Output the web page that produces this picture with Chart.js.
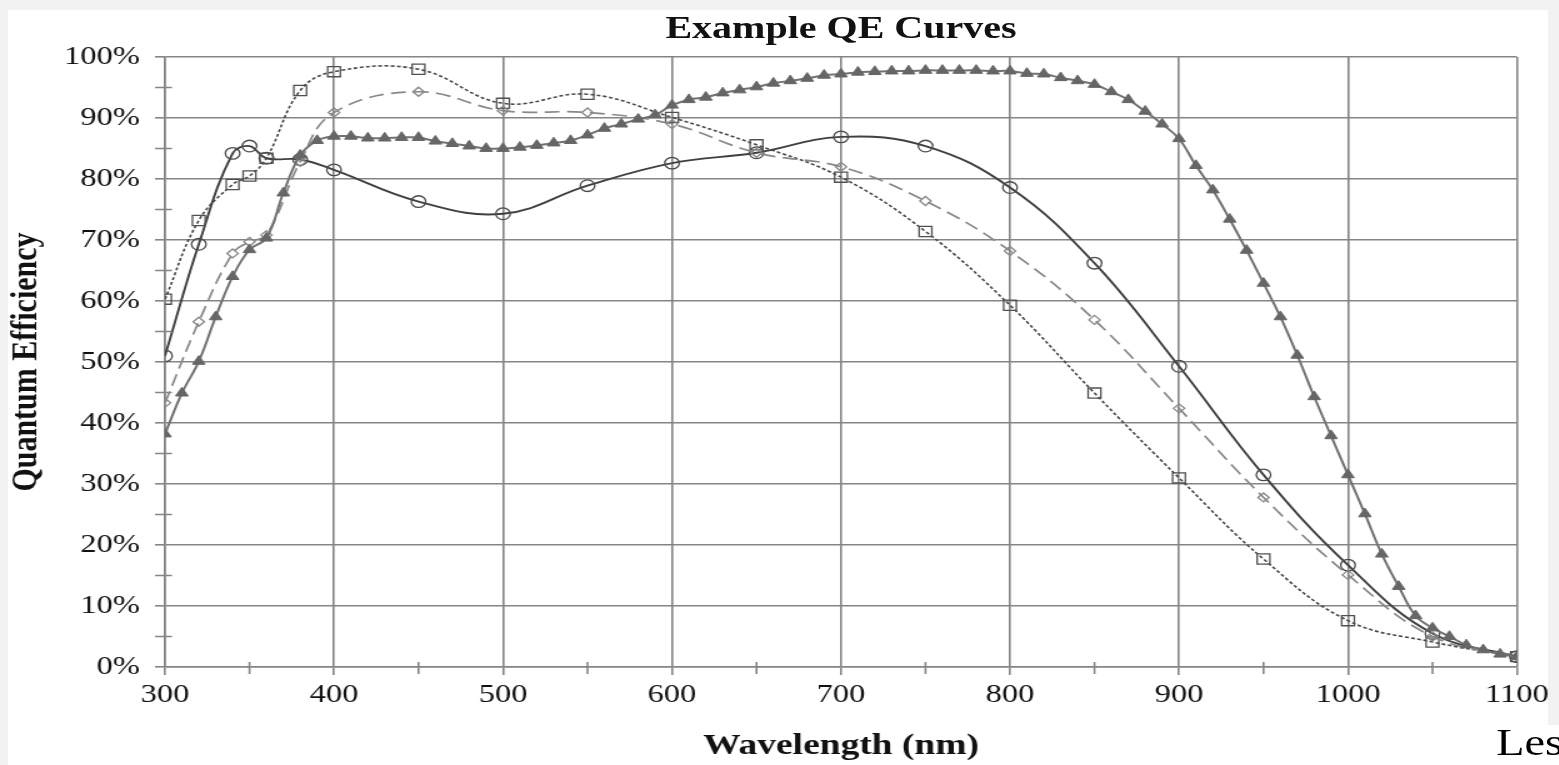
<!DOCTYPE html>
<html>
<head>
<meta charset="utf-8">
<script src="https://cdn.jsdelivr.net/npm/chart.js@4.4.1/dist/chart.umd.min.js"></script>
<style>
  html, body { margin: 0; padding: 0; background: #f2f2f2; overflow: hidden; }
  #paper { position: absolute; left: 8px; top: 10px; width: 1540px; height: 755px; background: #fff; }
  #paper2 { position: absolute; left: 1540px; top: 725px; width: 19px; height: 40px; background: #fff; }
  #wrap { position: absolute; left: 0; top: 0; width: 1247px; height: 765px; transform: scaleX(1.25); transform-origin: 0 0; }
  #c { position: absolute; left: 0; top: 0; width: 1247px; height: 765px; }
  #title { position: absolute; top: 11px; left: 472.8px; width: 400px; text-align: center; font: bold 32px "Liberation Serif", serif; line-height: 1; color: #111; white-space: nowrap; }
  #les { position: absolute; top: 724px; left: 1197px; font: 37px "Liberation Serif", serif; line-height: 1; color: #000; white-space: nowrap; }
</style>
</head>
<body>
<div id="paper"></div>
<div id="paper2"></div>
<div id="wrap">
  <canvas id="c" width="1247" height="765"></canvas>
  <div id="title">Example QE Curves</div>
  <div id="les">Les</div>
</div>
<script>
// ---- data ----
const wlCircle = [300,320,340,350,360,380,400,450,500,550,600,650,700,750,800,850,900,950,1000,1050,1100];
const qeCircle = [51.0,69.3,84.2,85.4,83.4,83.2,81.5,76.3,74.3,78.9,82.6,84.3,86.9,85.4,78.6,66.2,49.3,31.5,16.7,5.5,1.7];

const wlSquare = [300,320,340,350,360,380,400,450,500,550,600,650,700,750,800,850,900,950,1000,1050,1100];
const qeSquare = [60.3,73.2,79.1,80.5,83.4,94.5,97.6,98.0,92.4,93.9,90.1,85.6,80.3,71.4,59.3,44.9,31.0,17.7,7.6,4.1,1.7];

const wlDiamond = [300,320,340,350,360,380,400,450,500,550,600,650,700,750,800,850,900,950,1000,1050,1100];
const qeDiamond = [43.3,56.6,67.8,69.7,70.8,82.8,90.9,94.3,91.2,90.9,89.0,84.3,82.0,76.4,68.2,56.9,42.4,27.8,15.1,5.0,1.7];

const wlTriangle = [300,310,320,330,340,350,360,370,380,390,400,410,420,430,440,450,460,470,480,490,
  500,510,520,530,540,550,560,570,580,590,600,610,620,630,640,650,660,670,680,690,
  700,710,720,730,740,750,760,770,780,790,800,810,820,830,840,850,860,870,880,890,
  900,910,920,930,940,950,960,970,980,990,1000,1010,1020,1030,1040,1050,1060,1070,1080,1090,1100];
const qeTriangle = [38.2,44.9,50.1,57.4,64.0,68.4,70.3,77.7,83.9,86.3,87.0,87.0,86.7,86.7,86.8,86.8,86.2,85.8,85.4,85.0,
  85.0,85.2,85.5,85.9,86.3,87.2,88.3,89.0,89.8,90.5,92.1,93.0,93.4,94.1,94.6,95.1,95.7,96.1,96.5,97.0,
  97.2,97.5,97.6,97.7,97.7,97.8,97.8,97.8,97.8,97.7,97.7,97.3,97.2,96.6,96.1,95.5,94.3,93.0,91.1,89.0,
  86.6,82.2,78.2,73.4,68.3,62.9,57.4,51.1,44.3,37.9,31.5,25.1,18.5,13.2,8.4,6.4,5.0,3.6,2.8,2.1,1.7];

const xTicks = [300,400,500,600,700,800,900,1000,1100];
const yTicks = [0,10,20,30,40,50,60,70,80,90,100];
const xMinor = [350,450,550,650,750,850,950,1050];
const yMinor = [5,15,25,35,45,55,65,75,85,95];

const pts = (xs, ys) => xs.map((x, i) => ({ x: x, y: ys[i] }));

const GRID = '#858585';
const FONT = '"Liberation Serif", "Times New Roman", serif';

const minorTicks = {
  id: 'minorTicks',
  afterDraw(chart) {
    const { ctx, scales: { x, y } } = chart;
    ctx.save();
    ctx.strokeStyle = GRID;
    ctx.lineWidth = 1.6;
    ctx.beginPath();
    yMinor.forEach(v => {
      const py = y.getPixelForValue(v);
      ctx.moveTo(x.left - 8, py); ctx.lineTo(x.left + 5.5, py);
    });
    xMinor.forEach(v => {
      const px = x.getPixelForValue(v);
      ctx.moveTo(px, y.bottom - 5); ctx.lineTo(px, y.bottom + 7);
    });
    ctx.stroke();
    ctx.restore();
  }
};

new Chart(document.getElementById('c'), {
  type: 'line',
  data: {
    datasets: [
      {
        label: 'A', data: pts(wlTriangle, qeTriangle),
        borderColor: '#727272', borderWidth: 2, tension: 0.4,
        pointStyle: 'triangle', pointRadius: 5.8, pointBackgroundColor: '#666666', pointBorderColor: '#666666', pointBorderWidth: 1
      },
      {
        label: 'B', data: pts(wlDiamond, qeDiamond),
        borderColor: '#888888', borderWidth: 1.7, borderDash: [12, 6], tension: 0.4,
        pointStyle: 'rectRot', pointRadius: 4.5, pointBackgroundColor: 'rgba(255,255,255,0)', pointBorderColor: '#888888', pointBorderWidth: 1.3
      },
      {
        label: 'C', data: pts(wlSquare, qeSquare),
        borderColor: '#474747', borderWidth: 1.6, borderDash: [3, 2], tension: 0.4,
        pointStyle: 'rect', pointRadius: 7.2, pointBackgroundColor: 'rgba(255,255,255,0)', pointBorderColor: '#505050', pointBorderWidth: 1.3
      },
      {
        label: 'D', data: pts(wlCircle, qeCircle),
        borderColor: '#404040', borderWidth: 1.9, tension: 0.4,
        pointStyle: 'circle', pointRadius: 5.8, pointBackgroundColor: 'rgba(255,255,255,0)', pointBorderColor: '#4a4a4a', pointBorderWidth: 1.3
      }
    ]
  },
  options: {
    responsive: false,
    animation: false,
    devicePixelRatio: 1,
    layout: { padding: { left: 0, right: 33.4, top: 57, bottom: 0 } },
    plugins: { legend: { display: false }, title: { display: false }, tooltip: { enabled: false } },
    scales: {
      x: {
        type: 'linear', min: 300, max: 1100,
        afterBuildTicks: s => { s.ticks = xTicks.map(v => ({ value: v })); },
        afterFit: s => { s.height = 98; },
        grid: { color: GRID, lineWidth: 1.6, tickLength: 8, tickColor: GRID },
        border: { color: GRID, width: 1.6 },
        ticks: { color: '#111', font: { family: FONT, size: 26 }, padding: 5, maxRotation: 0, callback: v => String(v) },
        title: { display: true, text: 'Wavelength (nm)', color: '#111', font: { family: FONT, size: 30, weight: 'bold' }, padding: { top: 0, bottom: 1 } }
      },
      y: {
        type: 'linear', min: 0, max: 100,
        afterBuildTicks: s => { s.ticks = yTicks.map(v => ({ value: v })); },
        afterFit: s => { s.width = 132; },
        grid: { color: GRID, lineWidth: 1.6, tickLength: 8, tickColor: GRID },
        border: { color: GRID, width: 1.6 },
        ticks: { color: '#111', font: { family: FONT, size: 26 }, padding: 12, callback: v => v + '%' },
        title: { display: true, text: 'Quantum Efficiency', color: '#111', font: { family: FONT, size: 30, weight: 'bold' }, padding: { top: 3, bottom: 0 } }
      }
    }
  },
  plugins: [minorTicks]
});
</script>
</body>
</html>
